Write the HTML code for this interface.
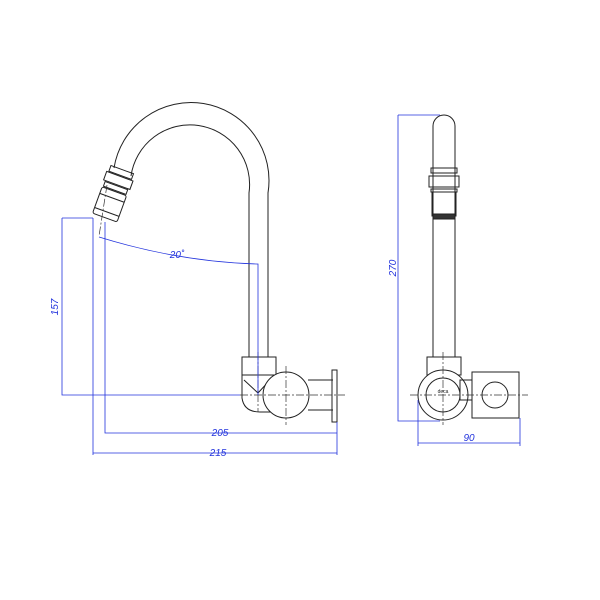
<!DOCTYPE html>
<html><head><style>body{margin:0;background:#fff}svg{display:block}</style></head><body>
<svg width="600" height="600" viewBox="0 0 600 600" xmlns="http://www.w3.org/2000/svg" font-family="Liberation Sans, sans-serif">
<g fill="none" stroke="#222" stroke-width="1">
<!-- left spout -->
<path d="M114,168 A78,78 0 0 1 268,193 L268,357"/>
<path d="M131,176 A59,59 0 0 1 249,193 L249,357"/>
<g transform="rotate(20 113 195)">
<rect x="101" y="168" width="24" height="6"/>
<rect x="99" y="175" width="28" height="9"/>
<rect x="101" y="185" width="24" height="5"/>
<rect x="100" y="191" width="26" height="28" rx="2"/>
<line x1="100" y1="198" x2="126" y2="198"/>
<line x1="100" y1="213" x2="126" y2="213"/>
</g>
<!-- elbow -->
<rect x="242" y="357" width="34" height="18"/>
<path d="M242,375 L242,398 Q244,412 260,412 L276,412"/>
<path d="M244,380 L258,393 L270,380"/>
<circle cx="286" cy="395" r="23" fill="#fff"/>
<path d="M308,380 L333,380 M308,410 L333,410"/>
<rect x="332" y="370" width="5" height="52"/>
<!-- right view -->
<path d="M433,357 L433,126 A11,11 0 0 1 455,126 L455,357"/>
<rect x="431" y="168" width="26" height="5"/>
<rect x="429" y="176" width="30" height="11"/>
<rect x="431" y="189" width="26" height="3"/>
<rect x="432" y="192" width="24" height="24"/>
<rect x="433" y="214" width="22" height="5" fill="#333"/>
<rect x="427" y="357" width="34" height="18"/>
<circle cx="443" cy="395" r="25" fill="#fff"/>
<circle cx="443" cy="395" r="17"/>
<rect x="460" y="380" width="12" height="20"/>
<rect x="472" y="372" width="47" height="46" fill="#fff"/>
<circle cx="495" cy="395" r="13"/>
</g>
<text x="443" y="393" font-size="5" text-anchor="middle" fill="#222">deca</text>
<!-- centerlines -->
<g stroke="#333" stroke-width="0.7" stroke-dasharray="8,2,2,2" fill="none">
<line x1="240" y1="395" x2="345" y2="395"/>
<line x1="286" y1="366" x2="286" y2="425"/>
<line x1="410" y1="395" x2="528" y2="395"/>
<line x1="443" y1="352" x2="443" y2="425"/>
<line x1="258" y1="352" x2="258" y2="412"/>
<line x1="107" y1="185" x2="99" y2="236"/>
</g>
<!-- dimensions -->
<g stroke="#2233dd" stroke-width="0.8" fill="none">
<path d="M62,218 L93,218 M62,218 L62,395 L240,395"/>
<path d="M105,222 L105,433 L337,433 M93,218 L93,455 M93,453 L337,453 M337,422 L337,455"/>
<path d="M99,237 Q180,262 258,264 L258,395"/>
<path d="M398,115 L440,115 M398,115 L398,421 L440,421"/>
<path d="M418,400 L418,446 M520,418 L520,446 M418,443 L520,443"/>
</g>
<g fill="#2233dd" font-size="10" font-style="italic">
<text x="58" y="307" text-anchor="middle" transform="rotate(-90 58 307)">157</text>
<text x="220" y="436" text-anchor="middle">205</text>
<text x="218" y="456" text-anchor="middle">215</text>
<text x="177" y="258" text-anchor="middle">20˚</text>
<text x="396" y="268" text-anchor="middle" transform="rotate(-90 396 268)">270</text>
<text x="469" y="441" text-anchor="middle">90</text>
</g>
</svg>
</body></html>
